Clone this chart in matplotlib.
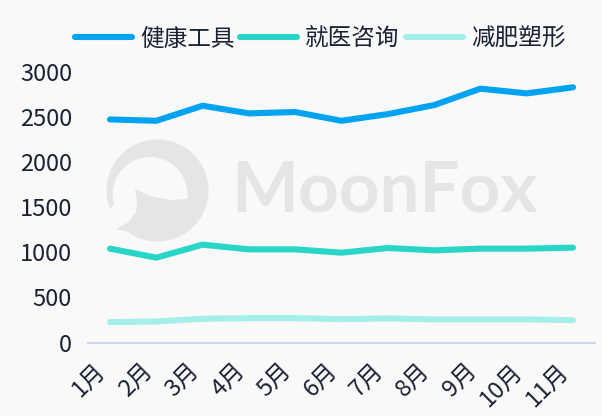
import matplotlib
matplotlib.use("Agg")
import matplotlib.pyplot as plt
import matplotlib.transforms as mtransforms
from matplotlib.patches import Circle, Polygon

plt.rcParams['font.family'] = ['Noto Sans CJK SC', 'DejaVu Sans']

months = ["1月", "2月", "3月", "4月", "5月", "6月", "7月", "8月", "9月", "10月", "11月"]
health_tools = [2474, 2459, 2626, 2541, 2556, 2459, 2533, 2633, 2815, 2763, 2830]
medical_consult = [1041, 941, 1085, 1033, 1033, 996, 1048, 1022, 1041, 1041, 1052]
weight_loss = [226, 233, 263, 270, 270, 259, 267, 256, 256, 256, 248]
series_names = ["健康工具", "就医咨询", "减肥塑形"]
colors = ["#00a3f2", "#28d5c6", "#a6efe8"]
yticks = [0, 500, 1000, 1500, 2000, 2500, 3000]

W, H = 602, 416
bg = "#f9f9f9"
wm_color = "#e5e5e5"
text_color = "#1a2233"
fig = plt.figure(figsize=(W / 100, H / 100), dpi=100, facecolor=bg)

# watermark (MoonFox logo + text)
wm = fig.add_axes([0, 0, 1, 1], zorder=0)
wm.set_xlim(0, W)
wm.set_ylim(H, 0)
wm.axis("off")
wm.set_facecolor(bg)
wm.add_patch(Circle((157.5, 190.5), 51, color=wm_color, lw=0))
wm.add_patch(Circle((150, 194.5), 37.5, color=bg, lw=0))
# opening of the ring at the lower left
wm.add_patch(Polygon([[114, 205], [125, 212], [125, 232], [108, 232], [108, 210]],
                     closed=True, color=bg, lw=0))
# tail / lower fill
wm.add_patch(Polygon([[135, 189], [150, 196], [170, 200], [188, 199], [188, 215],
                      [160, 238], [116, 229], [128, 223], [136, 212], [137, 200]],
                     closed=True, color=wm_color, lw=0))
wm.text(231, 191, "MoonFox", fontsize=51, fontweight="bold", color=wm_color,
        family="Lato", ha="left", va="center")

left, right, top, bottom = 88, 595, 72, 342.5
ax = fig.add_axes([left / W, 1 - bottom / H, (right - left) / W, (bottom - top) / H], zorder=1)
ax.patch.set_alpha(0)

x = list(range(len(months)))
for vals, name, c in zip([health_tools, medical_consult, weight_loss], series_names, colors):
    ax.plot(x, vals, color=c, lw=4.4, solid_capstyle="round", solid_joinstyle="round", label=name)

ax.set_ylim(0, 3000)
ax.set_xlim(-0.475, 10.475)
ax.set_yticks(yticks)
ax.set_xticks(x)
ax.set_xticklabels(months, rotation=45, ha="right", va="top", rotation_mode="anchor")
for s in ["top", "right", "left"]:
    ax.spines[s].set_visible(False)
ax.spines["bottom"].set_color("#ccd6eb")
ax.spines["bottom"].set_linewidth(1.5)
ax.tick_params(axis="both", length=0, labelsize=17, colors=text_color)
ax.tick_params(axis="y", pad=11.5)
ax.tick_params(axis="x", pad=12)
offset = mtransforms.ScaledTranslation(-16 / 100, 0, fig.dpi_scale_trans)
for lab in ax.get_xticklabels():
    lab.set_transform(lab.get_transform() + offset)

leg = fig.legend(*ax.get_legend_handles_labels(), loc="center",
                 bbox_to_anchor=(320 / W, 1 - 39 / H), ncol=3, frameon=False, fontsize=17,
                 handlelength=2.42, handletextpad=0.34, columnspacing=0.25,
                 labelcolor=text_color, borderpad=0, borderaxespad=0)
for line in leg.get_lines():
    line.set_linewidth(4.4)
    line.set_solid_capstyle("round")

fig.savefig("out.png", dpi=100, facecolor=bg)
